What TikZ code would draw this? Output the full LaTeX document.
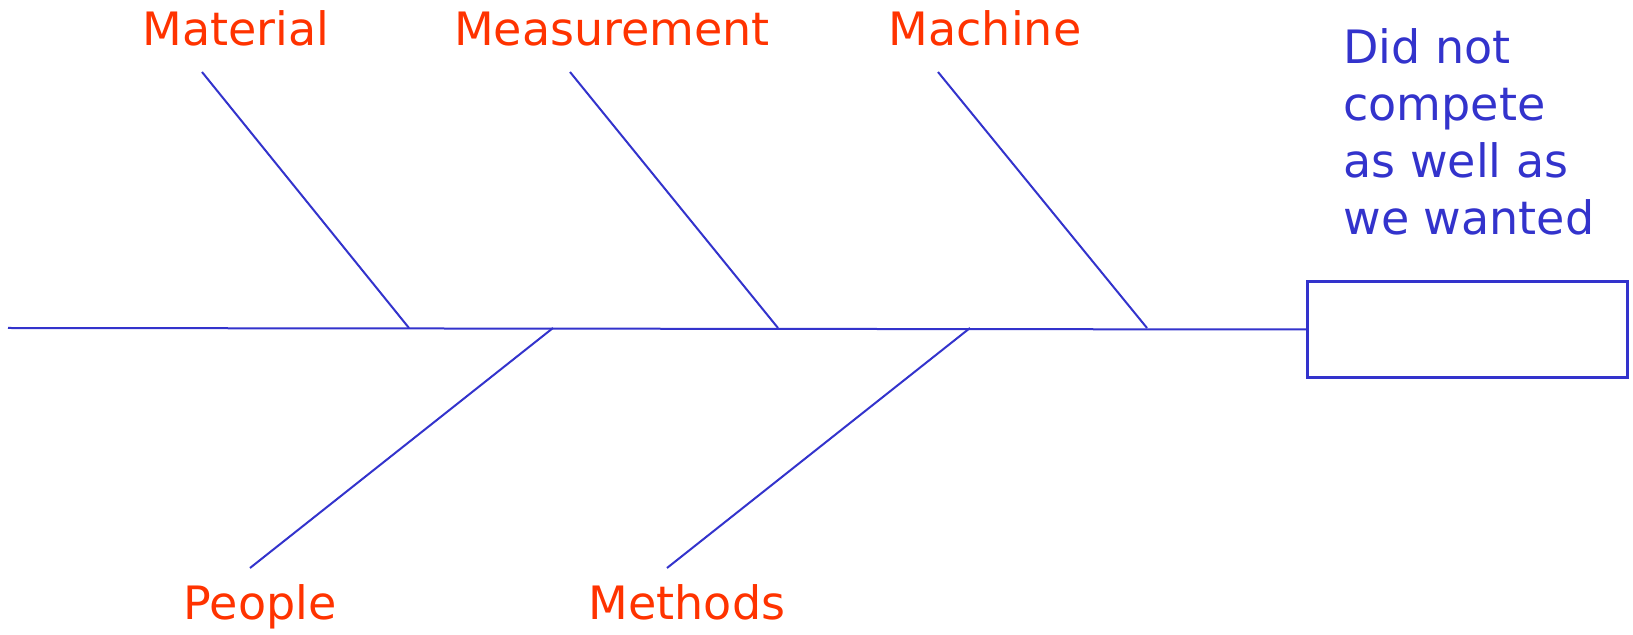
\documentclass[tikz,border=0pt]{standalone}
\usepackage{fontspec}
\setmainfont{DejaVu Sans}
\definecolor{bonecol}{HTML}{3333CC}
\definecolor{labcol}{HTML}{FF3300}
\begin{document}
\begin{tikzpicture}[x=0.5pt,y=-0.5pt,
  bone/.style={draw=bonecol,line width=1pt},
  cause/.style={text=labcol,font=\fontsize{23}{28}\selectfont,inner sep=0pt,anchor=base},
  effectbox/.style={draw=bonecol,line width=1.5pt,minimum width=160pt,minimum height=48pt,inner sep=0pt,anchor=north west},
  effecttext/.style={text=bonecol,font=\fontsize{23}{28.5}\selectfont,align=left,inner sep=0pt,anchor=north west}]
\useasboundingbox (0,0) rectangle (1633,635);
% head box
\node[effectbox] (head) at (1306,280) {};
\coordinate (tail) at (8,328);
\draw[bone] (tail) -- (head.west);
% top bones
\coordinate (matT) at (202,72);  \coordinate (matB) at (409,328);
\coordinate (meaT) at (570,72);  \coordinate (meaB) at (778,328);
\coordinate (macT) at (938,72);  \coordinate (macB) at (1147,328);
\coordinate (peoT) at (250,568); \coordinate (peoB) at (553,328);
\coordinate (metT) at (667,568); \coordinate (metB) at (970,328);
\draw[bone] (matT) -- (matB);
\draw[bone] (meaT) -- (meaB);
\draw[bone] (macT) -- (macB);
\draw[bone] (peoT) -- (peoB);
\draw[bone] (metT) -- (metB);
% labels
\node[cause] (material) at (236,46) {Material};
\node[cause] (measurement) at (612,46) {Measurement};
\node[cause] (machine) at (985,46) {Machine};
\node[cause] (people) at (260,620) {People};
\node[cause] (methods) at (687,620) {Methods};
\node[effecttext] (effect) at (1343,28) {Did not\\compete\\as well as\\we wanted};
\end{tikzpicture}
\end{document}
